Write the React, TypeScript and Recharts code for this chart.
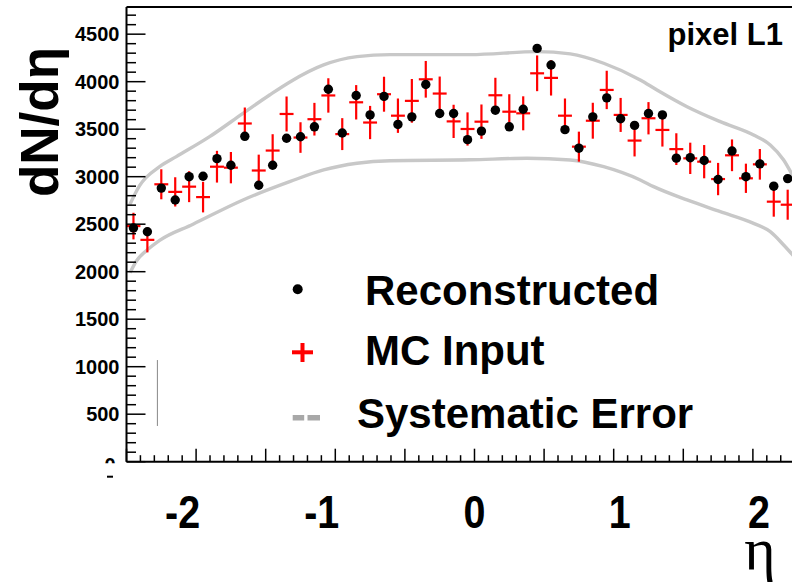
import React from 'react';
import { ComposedChart, Scatter, Line, XAxis, YAxis, ErrorBar, ReferenceLine } from 'recharts';

// eta bin centres (bin width 0.1)
const etaBins = [
  -2.45, -2.35, -2.25, -2.15, -2.05, -1.95, -1.85, -1.75, -1.65, -1.55, -1.45, -1.35,
  -1.25, -1.15, -1.05, -0.95, -0.85, -0.75, -0.65, -0.55, -0.45, -0.35, -0.25, -0.15,
  -0.05, 0.05, 0.15, 0.25, 0.35, 0.45, 0.55, 0.65, 0.75, 0.85, 0.95, 1.05, 1.15, 1.25,
  1.35, 1.45, 1.55, 1.65, 1.75, 1.85, 1.95, 2.05, 2.15, 2.25,
];

const recoValues = [
  2460, 2420, 2880, 2755, 3000, 3005, 3190, 3120, 3425, 2910, 3120, 3405,
  3420, 3525, 3920, 3460, 3855, 3650, 3845, 3550, 3630, 3970, 3665, 3665,
  3390, 3480, 3700, 3525, 3710, 4350, 4175, 3495, 3300, 3630, 3830, 3610,
  3540, 3665, 3650, 3195, 3200, 3170, 2970, 3270, 3000, 3135, 2900, 2980,
];

const mcValues = [
  2480, 2335, 2920, 2840, 2895, 2785, 3105, 3095, 3560, 3065, 3275, 3660,
  3412, 3605, 3855, 3448, 3783, 3570, 3868, 3642, 3798, 4025, 3875, 3582,
  3502, 3579, 3857, 3684, 3667, 4088, 4040, 3642, 3316, 3589, 3913, 3650,
  3380, 3615, 3492, 3290, 3193, 3158, 2975, 3225, 2983, 3130, 2737, 2705,
];

const mcErrors = [
  140, 132, 158, 154, 163, 161, 167, 165, 168, 167, 172, 184,
  161, 172, 181, 168, 181, 175, 184, 181, 230, 193, 179, 175,
  175, 181, 184, 184, 179, 188, 186, 181, 158, 189, 202, 179,
  167, 170, 175, 167, 165, 175, 170, 167, 154, 161, 158, 158,
];

const binHalfWidth = 0.05;

// systematic error band edges
const sysUpperEta = [
  -2.478, -2.406, -2.262, -2.142, -1.903, -1.663, -1.472, -1.323, -1.084, -0.844, -0.605,
  -0.03, 0.449, 0.688, 0.928, 1.191, 1.311, 1.527, 1.766, 2.005, 2.125, 2.221, 2.29,
];
const sysUpperVal = [
  2700, 2905, 3105, 3211, 3421, 3667, 3860, 4000, 4176, 4263, 4285,
  4285, 4316, 4292, 4194, 4018, 3913, 3737, 3579, 3439, 3334, 3176, 3000,
];
const sysLowerEta = [
  -2.474, -2.43, -2.35, -2.262, -2.022, -1.663, -1.323, -1.084, -0.844, -0.605, -0.03,
  0.377, 0.688, 0.928, 1.191, 1.287, 1.527, 1.766, 2.005, 2.125, 2.221, 2.29,
];
const sysLowerVal = [
  1990, 2110, 2230, 2330, 2500, 2755, 2950, 3071, 3141, 3168, 3178,
  3194, 3176, 3105, 2965, 2895, 2755, 2632, 2509, 2421, 2281, 2170,
];

const xLabels = [-2, -1, 0, 1, 2];
const yLabels = [0, 500, 1000, 1500, 2000, 2500, 3000, 3500, 4000, 4500];

const X_MIN = -2.5;
const X_MAX = 2.281;
const Y_MAX = 4786;

// minor ticks: 0.1 in eta, 100 in dN/deta
const xTicks = Array.from({ length: 48 }, (_, i) => (i - 25) / 10);
const yTicks = Array.from({ length: 48 }, (_, i) => i * 100);

const recoRows = etaBins.map((eta, i) => ({ eta, reco: recoValues[i] }));
const mcRows = etaBins.map((eta, i) => ({
  eta,
  mc: mcValues[i],
  mcErr: mcErrors[i],
  halfBin: binHalfWidth,
}));
const upperRows = sysUpperEta.map((eta, i) => ({ eta, sys: sysUpperVal[i] }));
const lowerRows = sysLowerEta.map((eta, i) => ({ eta, sys: sysLowerVal[i] }));

const FONT = '"Liberation Sans", Arial, Helvetica, sans-serif';

function EtaTick(props: any) {
  const { x, y, payload } = props;
  const v: number = payload.value;
  const isHalf = Math.abs(v * 2 - Math.round(v * 2)) < 1e-6;
  const isInt = Math.abs(v - Math.round(v)) < 1e-6;
  const r = Math.round(v) || 0;
  const anchor = r < 0 ? 'end' : r > 0 ? 'start' : 'middle';
  const dx = r < 0 ? 4 : r > 0 ? -5 : 0;
  return (
    <g>
      <line x1={x} x2={x} y1={y} y2={y - (isHalf ? 13 : 6.5)} stroke="#000" strokeWidth={1.5} />
      {isInt && xLabels.includes(r) && (
        <text
          x={0}
          y={0}
          transform={`translate(${x + dx} ${y + 66}) scale(0.84 1)`}
          textAnchor={anchor}
          fontFamily={FONT}
          fontWeight="bold"
          fontSize={47}
          fill="#000"
        >
          {String(r)}
        </text>
      )}
    </g>
  );
}

function CountTick(props: any) {
  const { x, y, payload } = props;
  const v: number = payload.value;
  const major = v % 500 === 0;
  const labelled = yLabels.includes(v);
  return (
    <g>
      <line x1={x} x2={x + (major ? 19 : 9.5)} y1={y} y2={y} stroke="#000" strokeWidth={1.5} />
      {labelled && v !== 0 && (
        <text x={x - 7} y={y} dy="0.36em" textAnchor="end" fontFamily={FONT} fontWeight="bold" fontSize={20} fill="#000">
          {v}
        </text>
      )}
      {labelled && v === 0 && (
        <g>
          <defs>
            <clipPath id="zeroLabelClip">
              <rect x={x - 40} y={y - 20} width={40} height={21.5} />
            </clipPath>
          </defs>
          <text
            x={x - 11}
            y={y + 3.5}
            dy="0.36em"
            textAnchor="end"
            fontFamily={FONT}
            fontWeight="bold"
            fontSize={20}
            fill="#000"
            clipPath="url(#zeroLabelClip)"
          >
            0
          </text>
          <rect x={x - 19.5} y={y + 14} width={6} height={2} fill="#000" />
        </g>
      )}
    </g>
  );
}

function NoMarker() {
  return <g />;
}

function Dot(props: any) {
  const { cx, cy } = props;
  return <circle cx={cx} cy={cy} r={4.7} fill="#000" />;
}

export default function App() {
  return (
    <div style={{ position: 'absolute', left: 0, top: 0, width: 792, height: 584, background: '#fff', overflow: 'hidden' }}>
      <ComposedChart width={792} height={584} margin={{ top: 7, right: 0, bottom: 121.3, left: 125.5 }}>
        <XAxis
          dataKey="eta"
          type="number"
          domain={[X_MIN, X_MAX]}
          allowDataOverflow
          ticks={xTicks}
          interval={0}
          tickLine={false}
          tickSize={0}
          tickMargin={0}
          height={1}
          axisLine={{ stroke: '#000', strokeWidth: 2 }}
          tick={<EtaTick />}
        />
        <YAxis
          type="number"
          domain={[0, Y_MAX]}
          allowDataOverflow
          ticks={yTicks}
          interval={0}
          tickLine={false}
          tickSize={0}
          tickMargin={0}
          width={1}
          axisLine={{ stroke: '#000', strokeWidth: 2 }}
          tick={<CountTick />}
        />
        <ReferenceLine y={Y_MAX} stroke="#000" strokeWidth={2} />
        <ReferenceLine
          segment={[
            { x: -2.278, y: 376 },
            { x: -2.278, y: 1070 },
          ]}
          stroke="#888"
          strokeWidth={1}
        />
        <Line
          data={upperRows}
          dataKey="sys"
          type="monotone"
          stroke="#c8c8c8"
          strokeWidth={3.4}
          dot={false}
          isAnimationActive={false}
        />
        <Line
          data={lowerRows}
          dataKey="sys"
          type="monotone"
          stroke="#c8c8c8"
          strokeWidth={3.4}
          dot={false}
          isAnimationActive={false}
        />
        <Scatter data={recoRows} dataKey="reco" shape={<Dot />} isAnimationActive={false} />
        <Scatter data={mcRows} dataKey="mc" shape={<NoMarker />} isAnimationActive={false}>
          <ErrorBar dataKey="mcErr" direction="y" width={0} stroke="#ff0000" strokeWidth={2.2} isAnimationActive={false} />
          <ErrorBar dataKey="halfBin" direction="x" width={0} stroke="#ff0000" strokeWidth={2.2} isAnimationActive={false} />
        </Scatter>
      </ComposedChart>

      <svg
        width={792}
        height={584}
        style={{ position: 'absolute', left: 0, top: 0, pointerEvents: 'none' }}
        fontFamily={FONT}
      >
        <text x={58} y={122} transform="rotate(-90 58 122)" textAnchor="middle" fontSize={53} fontWeight="bold" fill="#000">
          dN/dη
        </text>
        <text x={783} y={45} textAnchor="end" fontSize={31} fontWeight="bold" fill="#000">
          pixel L1
        </text>
        <text x={760} y={569} textAnchor="middle" fontSize={60} fontFamily='"Liberation Serif", "Times New Roman", serif' fill="#000">
          η
        </text>

        {/* legend */}
        <circle cx={297.7} cy={289.3} r={5} fill="#000" />
        <text x={365} y={305} fontSize={42} fontWeight="bold" fill="#000">
          Reconstructed
        </text>
        <rect x={292} y={350.3} width={21} height={4} fill="#ff0000" />
        <rect x={300.5} y={343} width={4} height={19} fill="#ff0000" />
        <text x={365} y={365} fontSize={42} fontWeight="bold" fill="#000">
          MC Input
        </text>
        <rect x={292.7} y={415} width={11.5} height={5.5} fill="#a8a8a8" />
        <rect x={307.5} y={415} width={12.5} height={5.5} fill="#a8a8a8" />
        <text x={357} y={428} fontSize={42} fontWeight="bold" fill="#000">
          Systematic Error
        </text>
      </svg>
    </div>
  );
}
